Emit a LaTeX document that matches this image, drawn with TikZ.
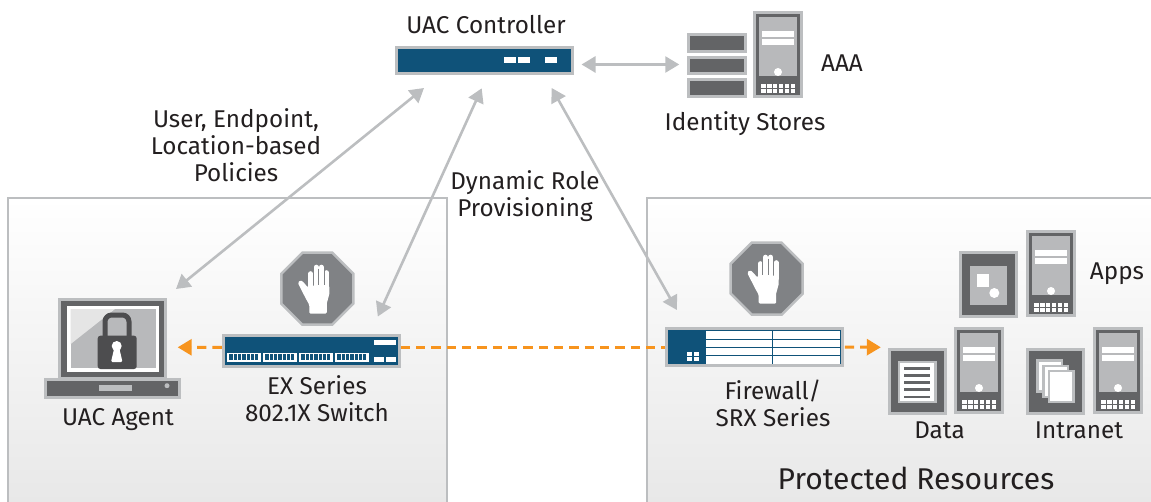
\documentclass[tikz,border=0pt]{standalone}
\usepackage{fontspec}
\setmainfont{Fira Sans}
\usepackage{tikz}
\usetikzlibrary{shapes,calc,arrows.meta}
\definecolor{jdark}{RGB}{99,100,102}
\definecolor{jlight}{RGB}{188,190,192}
\definecolor{jpanel}{RGB}{184,185,187}
\definecolor{jblue}{RGB}{15,82,121}
\definecolor{jstop}{RGB}{128,130,133}
\definecolor{jorange}{RGB}{247,148,30}
\definecolor{jlock}{RGB}{77,77,79}
\definecolor{jtext}{RGB}{35,31,32}
\def\px{.75pt}
\tikzset{
  lbl/.style={text=jtext,align=center,inner sep=0pt,font=\fontsize{18.2}{20.2}\selectfont},
  plate/.style={draw=jlight,fill=jdark,line width=3*\px,inner sep=0pt},
  bluebar/.style={plate,fill=jblue},
  stopsign/.style={regular polygon,regular polygon sides=8,draw=jlight,fill=jstop,line width=2.5*\px,inner sep=0pt,minimum size=78*\px},
  link/.style={draw=jlight,line width=2.6*\px,{Triangle[length=14*\px,width=16*\px]}-{Triangle[length=14*\px,width=16*\px]}},
  flow/.style={draw=jorange,line width=3*\px,dash pattern=on 7pt off 4.5pt,-{Triangle[length=14*\px,width=16*\px]}},
  panel/.style={draw=jlight,line width=2.5*\px},
  server/.pic={
    \fill[jlight](0,0)rectangle(50,87);
    \fill[jdark](3,3)rectangle(47,84);
    \fill[jpanel](6,6)rectangle(44,65);
    \fill[white](9,20)rectangle(41,26);
    \fill[white](9,28)rectangle(41,34);
    \fill[white](25,61)circle(4);
    \foreach \i in {0,...,5}{
      \fill[white](8+5.9*\i,73)rectangle++(4.6,4);
      \fill[white](8+5.9*\i,78)rectangle++(4.6,4);
    }
  },
  hand/.pic={
    \draw[white,line width=5*\px,line cap=round](-6.5,0)--(-6.5,-15);
    \draw[white,line width=5*\px,line cap=round](-1.2,0)--(-1.2,-21.5);
    \draw[white,line width=5*\px,line cap=round](4,0)--(4,-21.5);
    \draw[white,line width=5*\px,line cap=round](9.3,0)--(9.3,-16);
    \fill[white,rounded corners=1pt](-8,25)--(-8,16)..controls(-11,11)and(-15,3)..(-19.5,-6)--(-17,-8.5)..controls(-14,-7)and(-11,-3)..(-9,-1)--(-9,-3)--(12,-3)--(12,4)..controls(12,9)and(9.5,11)..(9.5,16)--(9.5,25)--cycle;
    \foreach \x in {-3.9,1.4,6.7}{\draw[jstop,line width=.8*\px](\x,-20)--(\x,-4);}
  }
}
\begin{document}
\begin{tikzpicture}[x=.75pt,y=-.75pt]
\useasboundingbox (0,0) rectangle (1151,502);
% fonds
\shade[top color=white,bottom color=black!9](8,198)rectangle(447,502);
\shade[top color=white,bottom color=black!9](647,198)rectangle(1151,502);
\draw[panel](8,502)--(8,198)--(447,198)--(447,502);
\draw[panel](647,502)--(647,198)--(1151,198);
% controleur
\node[bluebar,minimum width=176*\px,minimum height=26*\px] (ctrl) at (484.5,60.2) {};
\foreach \x in {504,518,545}{\fill[white](\x,56.7)rectangle++(12,6);}
\node[lbl] (ctrllbl) at (486,25) {UAC Controller};
% identity stores
\node[plate,minimum width=56.5*\px,minimum height=17*\px] (storea) at (717,42.7) {};
\node[plate,minimum width=56.5*\px,minimum height=16.5*\px] (storeb) at (717,65.3) {};
\node[plate,minimum width=56.5*\px,minimum height=17*\px] (storec) at (717,88.2) {};
\pic at (753,11) {server};
\node[lbl] (aaa) at (842,63) {AAA};
\node[lbl] (stores) at (745,124) {Identity Stores};
\node[lbl] (policies) at (236,145) {User, Endpoint,\\Location-based\\Policies};
\node[lbl] (dynrole) at (525,196.5) {Dynamic Role\\Provisioning};
% agent
\node[plate,minimum width=106*\px,minimum height=79*\px] (agent) at (112.8,339) {};
\fill[white](67.3,305.7)rectangle(159,371.7);
\fill[jpanel](70.7,309)rectangle(155.7,368.3);
\fill[black!10](70.7,309)--(115,309)--(70.7,344)--cycle;
\draw[jlock,line width=5*\px,rounded corners=5pt](105,337)--(105,315)--(129,315)--(129,337);
\fill[jlock,rounded corners=2pt](97.7,335.7)rectangle(136.7,369);
\fill[white](116.7,346)circle(5);
\fill[white,rounded corners=1pt](114.5,347)--(119,347)--(122.5,362)--(111,362)--cycle;
\node[plate,minimum width=134*\px,minimum height=17.5*\px] (agentbase) at (112.7,388.5) {};
\fill[jlight](99,385)rectangle(131.7,390.7);
\fill[jlight](167,385.7)circle(2.5);
\node[lbl] (agentlbl) at (118,420) {UAC Agent};
% switch
\node[stopsign] (stopa) at (317.3,288.7) {};
\pic at (stopa) {hand};
\node[bluebar,minimum width=176*\px,minimum height=31.5*\px] (exsw) at (311.3,351.1) {};
\foreach \x in {227.3,263.3,299.3,335.3}{
  \fill[white](\x,352.7)rectangle++(34,9);
  \foreach \i in {0,...,6}{\fill[jblue](\x+2+4.3*\i,354.2)rectangle++(3.3,6);}
}
\fill[white](374,340)rectangle(396,345);
\fill[white](374,356.7)rectangle(384,361.7);
\fill[white](386,356.7)rectangle(396,361.7);
\node[lbl] (exlbl) at (317,398.5) {EX Series\\802.1X Switch};
% srx
\node[stopsign] (stopb) at (766.7,278.7) {};
\pic at (stopb) {hand};
\node[bluebar,minimum width=176*\px,minimum height=36.5*\px] (srx) at (754.3,347) {};
\fill[white](705.7,331)rectangle(840,363.7);
\foreach \y in {339.3,347.3,355.3}{\draw[jblue,line width=.9*\px](705.7,\y)--(840,\y);}
\draw[jblue,line width=.9*\px](772.3,331)--(772.3,363.7);
\foreach \x in {687.3,693.5}{\foreach \y in {352,357}{\fill[white](\x,\y)rectangle++(5,4.2);}}
\node[lbl] (srxlbl) at (773,403) {Firewall/\\SRX Series};
% apps
\node[plate,minimum width=56*\px,minimum height=64*\px] (apps) at (988.3,284.3) {};
\fill[jpanel](970,266)rectangle(1006.7,305);
\fill[white](977,274)rectangle(989,286.7);
\fill[white](994.3,293)circle(5);
\pic at (1026,230) {server};
\node[lbl] (appslbl) at (1117,274) {Apps};
% data
\node[plate,minimum width=56*\px,minimum height=63.5*\px] (data) at (917.3,381.3) {};
\fill[white,draw=jlight,line width=2.4*\px](899,362)rectangle(935.5,402);
\foreach \y in {366.7,374,381,388,395.5}{\fill[jdark](904,\y)rectangle(930,\y+2.8);}
\pic at (954,327) {server};
\node[lbl] (datalbl) at (939.5,430) {Data};
% intranet
\node[plate,minimum width=56*\px,minimum height=63.5*\px] (intra) at (1055.8,381.3) {};
\foreach \i in {0,1,2}{\fill[white,draw=jlight,line width=2.4*\px](1037.5+5.8*\i,360.5+5.3*\i)rectangle++(24.5,31);}
\pic at (1093,327) {server};
\node[lbl] (intralbl) at (1079,430) {Intranet};
\node[lbl,font=\fontsize{22.5}{26}\selectfont] (protected) at (916,478) {Protected Resources};
% liaisons
\draw[link]($(ctrl.east)+(7.5,4.3)$)--($(storeb.west)+(-8,-.8)$);
\draw[link]($(ctrl.south)+(-60.5,13.3)$)--($(agent.north east)+(8.7,-9)$);
\draw[link]($(ctrl.south)+(-2.8,13.6)$)--($(exsw.north east)+(-23,-17.3)$);
\draw[link]($(ctrl.south)+(67.2,13.3)$)--($(srx.north west)+(12,-17.3)$);
\draw[flow]($(exsw.west)+(0,-3.8)$)--($(agent.east)+(10.4,8.3)$);
\draw[flow,-](exsw.east|-srx.west)--(srx.west);
\draw[flow]($(srx.east)+(1,0)$)--($(data.west)+(-7,-34)$);
\end{tikzpicture}
\end{document}
